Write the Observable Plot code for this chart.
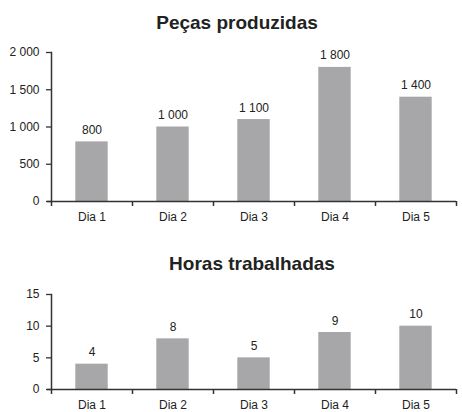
<!DOCTYPE html>
<html>
<head>
<meta charset="utf-8">
<script src="https://cdn.jsdelivr.net/npm/d3@7"></script>
<script src="https://cdn.jsdelivr.net/npm/@observablehq/plot@0.6"></script>
<style>
  html, body { margin: 0; padding: 0; background: #fff; overflow: hidden; }
  #wrap { position: relative; width: 462px; height: 412px; font-family: "Liberation Sans", Arial, sans-serif; }
  .title { position: absolute; font-weight: bold; font-size: 19px; line-height: 19px; color: #222; text-align: center; white-space: nowrap; }
  .chart { position: absolute; left: 0; }
  .chart svg { display: block; overflow: visible; }
</style>
</head>
<body>
<div id="wrap">
  <div class="title" id="t1" style="left:12px; width:450px; top:13px;"></div>
  <div class="chart" id="c1" style="top:0px;"></div>
  <div class="title" id="t2" style="left:42px; width:420px; top:254px;"></div>
  <div class="chart" id="c2" style="top:240px;"></div>
</div>
<script>
const days = ["Dia 1", "Dia 2", "Dia 3", "Dia 4", "Dia 5"];
const title1 = "Peças produzidas";
const pecas = [800, 1000, 1100, 1800, 1400];
const pecasTicks = [0, 500, 1000, 1500, 2000];
const title2 = "Horas trabalhadas";
const horas = [4, 8, 5, 9, 10];
const horasTicks = [0, 5, 10, 15];

const fmt = d3.formatLocale({decimal: ",", thousands: " ", grouping: [3], currency: ["", ""]}).format(",");
const W = 462, ML = 51, MR = 6;
const STEP = (W - ML - MR) / days.length;
const BAR_INSET = STEP * 0.3;

function chart(values, yTicks, height, marginTop, marginBottom) {
  const data = days.map((d, i) => ({day: d, i, v: values[i]}));
  const y0 = yTicks[0];
  const boundaries = d3.range(days.length + 1);
  const centers = days.map((d, i) => i + 0.5);
  return Plot.plot({
    width: W, height, marginLeft: ML, marginRight: MR, marginTop, marginBottom,
    style: {fontFamily: "'Liberation Sans', Arial, sans-serif", fontSize: "12px", color: "#222", background: "transparent"},
    x: {type: "linear", domain: [0, days.length], axis: null, label: null},
    y: {domain: [y0, yTicks[yTicks.length - 1]], axis: null, label: null},
    marks: [
      Plot.rectY(data, {x: "i", interval: 1, y: "v", insetLeft: BAR_INSET, insetRight: BAR_INSET, fill: "#a7a7aa"}),
      Plot.text(data, {x: "i", y: "v", dx: STEP / 2, text: d => fmt(d.v), lineAnchor: "bottom", dy: -8, fill: "#222"}),
      Plot.axisY({ticks: yTicks, tickSize: 5, tickPadding: 7, tickFormat: fmt, label: null, stroke: "#333", strokeWidth: 1.3}),
      Plot.axisX({ticks: centers, tickSize: 0, tickPadding: 11, tickFormat: v => days[Math.floor(v)], label: null}),
      Plot.axisX({ticks: boundaries, tickSize: 5, tickFormat: () => "", label: null, stroke: "#333", strokeWidth: 1.5}),
      Plot.ruleY([y0], {stroke: "#333", strokeWidth: 1.5, insetLeft: -4}),
      Plot.frame({anchor: "left", stroke: "#333", strokeWidth: 1.5})
    ]
  });
}

document.getElementById("t1").textContent = title1;
document.getElementById("t2").textContent = title2;
document.getElementById("c1").append(chart(pecas, pecasTicks, 225, 52, 24));
document.getElementById("c2").append(chart(horas, horasTicks, 172, 54, 23));
</script>
</body>
</html>
